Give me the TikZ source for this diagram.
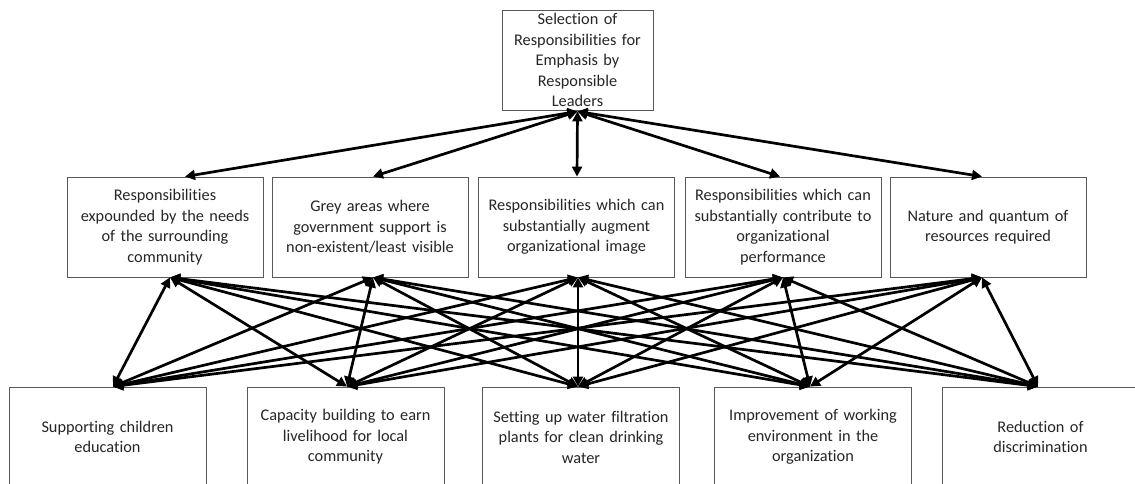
\documentclass[tikz,border=0pt]{standalone}
\usepackage{fontspec}
\setmainfont[Ligatures=NoCommon]{Carlito}
\usetikzlibrary{arrows.meta,calc}
\begin{document}
\begin{tikzpicture}[x=1pt,y=-1pt,
  box/.style={draw=black!65,line width=0.9pt,fill=white,align=center,
    text=black!85,inner sep=2pt,
    font=\fontsize{16.3}{20.5}\selectfont},
  midbox/.style={box,minimum width=196pt,minimum height=100pt,text width=190pt},
  botbox/.style={box,minimum width=197pt,minimum height=100pt,text width=190pt},
  link/.style={line width=2.7pt,{Triangle[length=10pt,width=10pt]}-{Triangle[length=10pt,width=10pt]}}]
\useasboundingbox (0,0) rectangle (1135,484);
\fill[white] (0,0) rectangle (1135,484);
% top
\node[box,minimum width=149pt,minimum height=100pt,text width=147pt] (top) at (577.5,60)
  {Selection of\\Responsibilities for\\Emphasis by\\Responsible\\Leaders};
% middle row
\node[midbox] (m1) at (165,227) {Responsibilities\\expounded by the needs\\of the surrounding\\community};
\node[midbox] (m2) at (370,227) {Grey areas where\\government support is\\non-existent/least visible};
\node[midbox] (m3) at (576.5,227) {Responsibilities which can\\substantially augment\\organizational image};
\node[midbox] (m4) at (783,227) {Responsibilities which can\\substantially contribute to\\organizational\\performance};
\node[midbox] (m5) at (988,227) {Nature and quantum of\\resources required};
% bottom row
\node[botbox] (b1) at (107.5,437) {Supporting children\\education};
\node[botbox] (b2) at (345.5,437) {Capacity building to earn\\livelihood for local\\community};
\node[botbox] (b3) at (581,437) {Setting up water filtration\\plants for clean drinking\\water};
\node[botbox] (b4) at (813,437) {Improvement of working\\environment in the\\organization};
\node[botbox] (b5) at (1040.5,437) {Reduction of\\discrimination};
% attachment points
\coordinate (tb) at ($(top.south)+(0,1)$);
\coordinate (m1t) at ($(m1.north)+(20,0)$);
\coordinate (m2t) at ($(m2.north)+(3,0)$);
\coordinate (m3t) at ($(m3.north)+(0.5,0)$);
\coordinate (m4t) at ($(m4.north)+(-3,0)$);
\coordinate (m5t) at ($(m5.north)+(-6,0)$);
\coordinate (m1b) at ($(m1.south)+(5,0)$);
\coordinate (m2b) at ($(m2.south)+(3,0)$);
\coordinate (m3b) at ($(m3.south)+(1.5,0)$);
\coordinate (m4b) at ($(m4.south)+(0,0)$);
\coordinate (m5b) at ($(m5.south)+(-6,0)$);
\coordinate (b1t) at ($(b1.north)+(5.5,0)$);
\coordinate (b2t) at ($(b2.north)+(1.5,0)$);
\coordinate (b3t) at ($(b3.north)+(-3,0)$);
\coordinate (b4t) at ($(b4.north)+(-3,0)$);
\coordinate (b5t) at ($(b5.north)+(-2.5,0)$);
% connectors top-middle
\foreach \m in {m1t,m2t,m3t,m4t,m5t}
  \draw[link] (tb) -- (\m);
% connectors middle-bottom
\foreach \m in {m1b,m2b,m3b,m4b,m5b}
  \foreach \b in {b1t,b2t,b3t,b4t,b5t}
    \draw[link] (\m) -- (\b);
\end{tikzpicture}
\end{document}
